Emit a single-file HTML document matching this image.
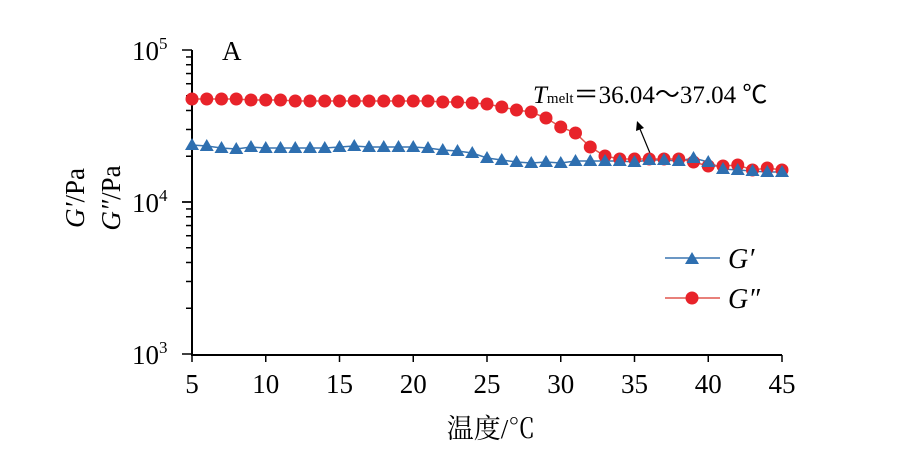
<!DOCTYPE html>
<html><head><meta charset="utf-8"><style>body{margin:0;background:#fff}svg{display:block}</style></head><body>
<svg width="899" height="458" xmlns="http://www.w3.org/2000/svg" font-family="Liberation Serif, serif">
<rect width="899" height="458" fill="#fff"/>
<g stroke="#000" stroke-width="2" fill="none">
<line x1="192" y1="50" x2="192" y2="356"/>
<line x1="191" y1="355" x2="782" y2="355"/>
</g>
<g id="ticks" stroke="#000" stroke-width="1.5"></g>
<g font-size="27" fill="#000">
<text x="132" y="60">10<tspan font-size="17" dy="-11">5</tspan></text>
<text x="132" y="212">10<tspan font-size="17" dy="-11">4</tspan></text>
<text x="132" y="364">10<tspan font-size="17" dy="-11">3</tspan></text>
<text x="222" y="60">A</text>
</g>
<g font-size="27" text-anchor="middle" id="xl"></g>
<text x="491" y="438" font-size="27" text-anchor="middle" font-family="Liberation Serif, 'Noto Serif CJK SC', serif">温度/℃</text>
<text transform="translate(84,198) rotate(-90)" font-size="27" text-anchor="middle"><tspan font-style="italic">G′</tspan>/Pa</text>
<text transform="translate(120,198) rotate(-90)" font-size="27" text-anchor="middle"><tspan font-style="italic">G″</tspan>/Pa</text>
<text x="533" y="103" font-size="25"><tspan font-style="italic">T</tspan><tspan font-size="15">melt</tspan>＝36.04～37.04 ℃</text>
<line x1="652" y1="158" x2="640" y2="129" stroke="#000" stroke-width="1.2"/>
<polygon points="637,121 636,131 644,128" fill="#000"/>
<g id="series"></g>
<line x1="665" y1="258" x2="720" y2="258" stroke="#3a75b0" stroke-width="1.5"/>
<polygon points="692,252 699,264 685,264" fill="#2e6fb0"/>
<text x="728" y="268" font-size="28" font-style="italic">G′</text>
<line x1="665" y1="298" x2="720" y2="298" stroke="#e0574f" stroke-width="1.5"/>
<circle cx="692" cy="298" r="6.5" fill="#e8232a"/>
<text x="728" y="308" font-size="28" font-style="italic">G″</text>
</svg>
<script>
const ns="http://www.w3.org/2000/svg";
function el(p,t,a){const e=document.createElementNS(ns,t);for(const k in a)e.setAttribute(k,a[k]);p.appendChild(e);return e;}
const tk=document.getElementById('ticks');
[50,202].forEach(b=>{for(let m=1;m<=10;m++){const y=b+152-152*Math.log10(m);const L=(m==1||m==10)?10:6;el(tk,'line',{x1:192-L,x2:192,y1:y,y2:y});}});
const X=t=>192+(t-5)*14.75;
const xl=document.getElementById('xl');
for(let t=5;t<=45;t+=5){el(tk,'line',{x1:X(t),x2:X(t),y1:355,y2:362});const tx=el(xl,'text',{x:X(t),y:393});tx.textContent=t;}
const r=[99,99,99,99,100,100,100,101,101,101,101,101,101,101,101,101,101,102,102,103,104,107,110,112,118,127,133,147,156,159,159,159,159,159,162,166,166,165,170,168,170,171,171];
const b=[145,146,148,149,147,148,148,148,148,148,147,146,147,147,147,147,148,150,151,153,158,160,162,163,162,163,161,161,161,161,162,160,160,161,158,162,169,170,171,172,172];
const s=document.getElementById('series');
const pb=b.map((y,i)=>X(5+i)+','+y).join(' ');
el(s,'polyline',{points:pb,fill:'none',stroke:'#3a75b0','stroke-width':1.5});
const rr=r.slice(0,41);
el(s,'polyline',{points:rr.map((y,i)=>X(5+i)+','+y).join(' '),fill:'none',stroke:'#e0574f','stroke-width':1.5});
rr.forEach((y,i)=>el(s,'circle',{cx:X(5+i),cy:y,r:6.5,fill:'#e8232a'}));
b.forEach((y,i)=>{const x=X(5+i);el(s,'polygon',{points:`${x},${y-7} ${x+7},${y+5} ${x-7},${y+5}`,fill:'#2e6fb0'});});
</script>
</body></html>
